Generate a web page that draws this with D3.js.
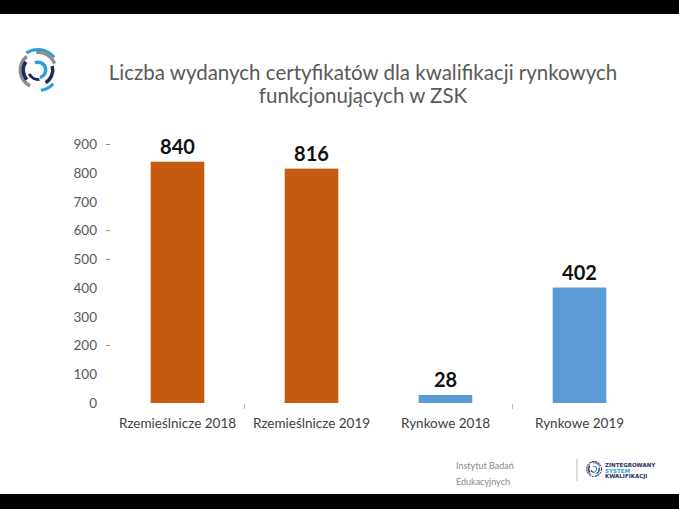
<!DOCTYPE html>
<html><head><meta charset="utf-8">
<script src="https://cdn.jsdelivr.net/npm/d3@7"></script>
<style>html,body{margin:0;padding:0;background:#fff;}svg{display:block;}</style>
</head><body>
<svg id="c" width="679" height="509"></svg>
<script>
const categories = ["Rzemieślnicze 2018", "Rzemieślnicze 2019", "Rynkowe 2018", "Rynkowe 2019"];
const values = [840, 816, 28, 402];
const barColors = ["#C55A11", "#C55A11", "#5B9BD5", "#5B9BD5"];
const yTicks = [0, 100, 200, 300, 400, 500, 600, 700, 800, 900];
const dashTicks = [900, 600, 500, 200];
const titleLines = ["Liczba wydanych certyfikatów dla kwalifikacji rynkowych", "funkcjonujących w ZSK"];

const svg = d3.select("#c");
const W = 679, H = 509;
svg.append("rect").attr("width", W).attr("height", H).attr("fill", "#fff");
svg.append("rect").attr("x", 0).attr("y", 0).attr("width", W).attr("height", 14).attr("fill", "#000");
svg.append("rect").attr("x", 0).attr("y", 494).attr("width", W).attr("height", 15).attr("fill", "#000");

const font = "Lato, 'Open Sans', sans-serif";

// title
svg.append("g").selectAll("text").data(titleLines).join("text")
  .attr("x", 363).attr("y", (d, i) => 80 + i * 23)
  .attr("text-anchor", "middle").attr("font-family", font)
  .attr("font-size", 20.5).attr("fill", "#595959").text(d => d);

const x = d3.scaleBand().domain(categories).range([110.5, 646.5]).paddingInner(0.6).paddingOuter(0.3);
const y = d3.scaleLinear().domain([0, 900]).range([403, 144.5]);

// y axis labels
const yAxis = d3.axisLeft(y).tickValues(yTicks).tickSize(0).tickPadding(0);
const gy = svg.append("g").attr("transform", "translate(97,0)").call(yAxis);
gy.select(".domain").remove();
gy.selectAll("text").attr("font-family", font).attr("font-size", 13.5).attr("fill", "#595959");

// dash artifacts
svg.append("g").selectAll("line").data(dashTicks).join("line")
  .attr("x1", 106).attr("x2", 110).attr("y1", d => y(d)).attr("y2", d => y(d))
  .attr("stroke", "#8a8a8a").attr("stroke-width", 1);

// bars
svg.append("g").selectAll("rect").data(values).join("rect")
  .attr("x", (d, i) => x(categories[i])).attr("width", x.bandwidth())
  .attr("y", d => y(d)).attr("height", d => y(0) - y(d))
  .attr("fill", (d, i) => barColors[i]);

// value labels
svg.append("g").selectAll("text").data(values).join("text")
  .attr("x", (d, i) => x(categories[i]) + x.bandwidth() / 2)
  .attr("y", d => y(d) - 8)
  .attr("text-anchor", "middle").attr("font-family", font).attr("font-weight", "bold")
  .attr("font-size", 20).attr("fill", "#111").text(d => d);

// x axis
const xAxis = d3.axisBottom(x).tickSize(0).tickPadding(0);
const gx = svg.append("g").attr("transform", "translate(0,428)").call(xAxis);
gx.select(".domain").remove();
gx.selectAll("text").attr("dy", 0).attr("font-family", font).attr("font-size", 13.5).attr("fill", "#404040");

// separator ticks
const seps = [0, 2].map(i => (x(categories[i]) + x.bandwidth() + x(categories[i + 1])) / 2);
svg.append("g").selectAll("line").data(seps).join("line")
  .attr("x1", d => d).attr("x2", d => d).attr("y1", 404).attr("y2", 409)
  .attr("stroke", "#bbb").attr("stroke-width", 1);

// logo top-left
const logo = svg.append("g").attr("transform", "translate(38,70)");
const arcs = [
  {r0: 19, r1: 22, a0: -0.6, a1: 0.9, c: "#2a9fd8"},
  {r0: 19, r1: 22, a0: 2.3, a1: 3.0, c: "#2a9fd8"},
  {r0: 16, r1: 19.5, a0: -0.1, a1: 1.2, c: "#8c8c8c"},
  {r0: 16, r1: 19.5, a0: 3.6, a1: 5.6, c: "#8c8c8c"},
  {r0: 13, r1: 16.5, a0: 1.3, a1: 2.6, c: "#1f2b5a"},
  {r0: 13, r1: 16.5, a0: 4.0, a1: 5.3, c: "#1f2b5a"},
  {r0: 8, r1: 11, a0: 3.0, a1: 4.3, c: "#1f2b5a"},
  {r0: 6, r1: 9.5, a0: -0.4, a1: 2.9, c: "#2a9fd8"}
];
const arcGen = d3.arc();
logo.selectAll("path").data(arcs).join("path")
  .attr("d", d => arcGen({innerRadius: d.r0, outerRadius: d.r1, startAngle: d.a0, endAngle: d.a1}))
  .attr("fill", d => d.c);

// footer
svg.append("g").selectAll("text").data(["Instytut Badań", "Edukacyjnych"]).join("text")
  .attr("x", 456).attr("y", (d, i) => 469 + i * 16)
  .attr("font-family", font).attr("font-size", 9).attr("fill", "#8a8a8a").text(d => d);
svg.append("line").attr("x1", 577).attr("x2", 577).attr("y1", 459).attr("y2", 481)
  .attr("stroke", "#bbb").attr("stroke-width", 1);
const small = svg.append("g").attr("transform", "translate(594,469)");
small.selectAll("path").data(arcs).join("path")
  .attr("d", d => arcGen({innerRadius: d.r0 * 0.35, outerRadius: d.r1 * 0.35, startAngle: d.a0, endAngle: d.a1}))
  .attr("fill", d => d.c);
small.append("circle").attr("r", 7.5).attr("fill", "none").attr("stroke", "#1f2b5a").attr("stroke-width", 1).attr("stroke-dasharray", "2 1");
const sText = [["ZINTEGROWANY", "#1f2b5a"], ["SYSTEM", "#2a9fd8"], ["KWALIFIKACJI", "#1f2b5a"]];
svg.append("g").selectAll("text").data(sText).join("text")
  .attr("x", 605).attr("y", (d, i) => 467 + i * 5.5)
  .attr("font-family", "'DejaVu Sans', sans-serif").attr("font-weight", "bold")
  .attr("font-size", 5.5).attr("fill", d => d[1]).text(d => d[0]);
</script>
</body></html>
